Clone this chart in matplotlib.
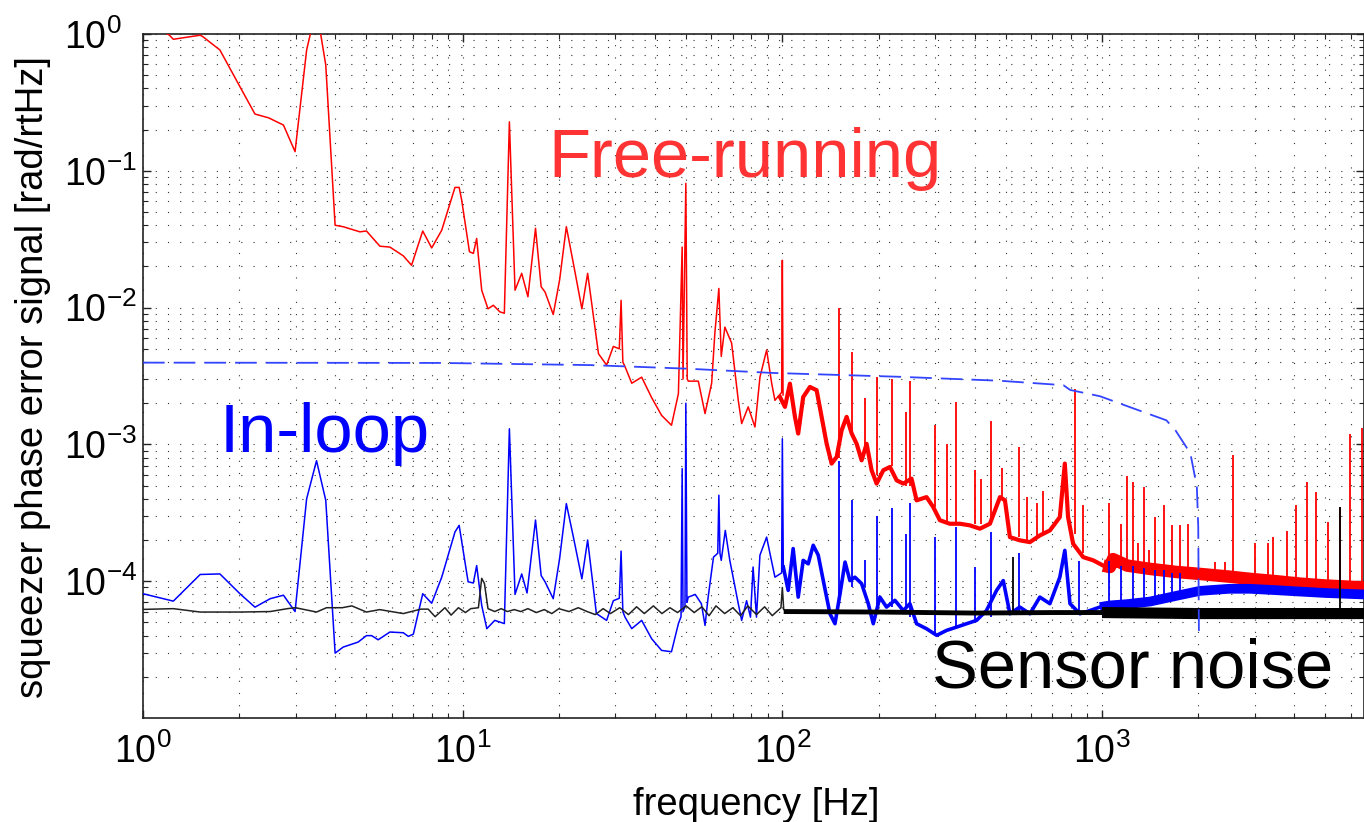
import numpy as np
import matplotlib
matplotlib.use("Agg")
import matplotlib.pyplot as plt

plt.rcParams['font.family'] = ['Liberation Sans', 'DejaVu Sans']
plt.rcParams['mathtext.fontset'] = 'custom'
plt.rcParams['mathtext.rm'] = 'Liberation Sans'
plt.rcParams['mathtext.it'] = 'Liberation Sans:italic'
plt.rcParams['mathtext.bf'] = 'Liberation Sans:bold'

# ---------------- data ----------------
# Free-running, 1-100 Hz (thin trace)
red_f = [1.0, 1.21, 1.244, 1.51, 1.54, 1.74, 2.01, 2.24, 2.47, 2.75, 2.99, 3.25, 3.4, 3.55,
         3.73, 3.99, 4.23, 4.77, 5.0, 5.51, 5.92, 6.52, 6.92, 7.5, 8.0, 8.6, 9.46, 9.75, 9.93,
         10.5, 10.8, 11.06, 11.47, 12.0, 12.47, 13.08, 13.5, 14.0, 14.58, 15.3, 16.0, 16.9,
         17.6, 18.1, 19.2, 20.1, 21.1, 22.2, 23.6, 24.6, 26.6, 28.2, 29.6, 30.9, 31.3, 31.7,
         32.2, 33.8, 36.3, 39.0, 41.9, 45.0, 47.3, 48.6, 48.9, 49.9, 50.4, 50.8, 54.6, 57.3,
         60.1, 61.5, 63.3, 64.4, 66.1, 69.4, 72.8, 74.6, 78.2, 82.1, 85.1, 89.3, 92.6, 94.8,
         99.5, 100.0, 100.5]
red_v = [1.3, 0.98, 0.915, 0.98, 0.955, 0.764, 0.412, 0.26, 0.244, 0.216, 0.138, 0.764, 1.2, 1.2,
         0.593, 0.040, 0.039, 0.0358, 0.0363, 0.0281, 0.0277, 0.0239, 0.0204, 0.0363, 0.0273,
         0.0368, 0.0756, 0.0756, 0.061, 0.0256, 0.0249, 0.032, 0.0134, 0.0098, 0.0104, 0.0093,
         0.0091, 0.228, 0.0134, 0.0178, 0.012, 0.038, 0.0142, 0.013, 0.0089, 0.0159, 0.039,
         0.021, 0.0098, 0.0178, 0.0046, 0.0038, 0.0052, 0.0050, 0.0113, 0.0040, 0.0037, 0.0028,
         0.0031, 0.0022, 0.00163, 0.00138, 0.00235, 0.0277, 0.0030, 0.081, 0.0030, 0.0029,
         0.0029, 0.00168, 0.0028, 0.0065, 0.0138, 0.0044, 0.0072, 0.0055, 0.0021, 0.00142,
         0.00188, 0.00134, 0.0031, 0.0049, 0.0028, 0.0021, 0.0024, 0.0222, 0.0023]
# Free-running, 100-1000 Hz (fuzzy band)
red_mid_f = [98.3, 101.9, 105.6, 109.5, 112.1, 116.2, 122, 128, 132.7, 137.6, 142.6, 147.9,
             153.3, 158.9, 164.8, 170.8, 177, 183.5, 190.2, 197.2, 206.9, 217.1, 227.8, 239,
             253.6, 263, 282.6, 296.5, 311, 334, 359.4, 386, 415, 446, 479.6, 497, 515, 553,
             595, 639, 687, 738, 765, 783, 812, 873, 939, 1009, 1059]
red_mid_v = [2.22e-3, 1.88e-3, 2.78e-3, 1.59e-3, 1.2e-3, 2.22e-3, 2.63e-3, 2.49e-3, 1.59e-3,
             1.01e-3, 7.24e-4, 8.1e-4, 1.27e-3, 1.59e-3, 1.2e-3, 1.01e-3, 7.65e-4, 1.01e-3,
             6.47e-4, 5.17e-4, 6.47e-4, 6.84e-4, 5.46e-4, 5.17e-4, 5.62e-4, 3.9e-4, 4.12e-4,
             3.48e-4, 2.79e-4, 2.63e-4, 2.63e-4, 2.56e-4, 2.42e-4, 2.63e-4, 4.12e-4, 3.9e-4,
             2.1e-4, 1.99e-4, 1.93e-4, 2.16e-4, 2.35e-4, 2.94e-4, 7.24e-4, 2.94e-4, 1.88e-4,
             1.5e-4, 1.42e-4, 1.3e-4, 1.27e-4]
# Free-running, 1-6.6 kHz (fuzzy band centre)
red_hi_f = [1009, 1059, 1082, 1200, 1413, 1700, 2025, 2500, 2903, 3500, 4160, 5000, 6600]
red_hi_v = [1.3e-4, 1.27e-4, 1.45e-4, 1.3e-4, 1.23e-4, 1.17e-4, 1.13e-4, 1.08e-4, 1.04e-4,
            1.0e-4, 9.6e-5, 9.3e-5, 9.0e-5]
red_spike_f = [150.6, 164.6, 182, 197.5, 220, 244, 250, 300, 328, 350, 400, 417, 450, 485,
               548, 581, 625, 655, 824, 870, 1050, 1150, 1200, 1250, 1300, 1355, 1400, 1460,
               1560, 1655, 1760, 1860, 2250, 2420, 2560, 3000, 3300, 3430, 3780, 4050, 4370,
               4670, 5110, 5550, 5980, 6490]
red_spike_top = [0.010, 0.0047, 0.0022, 0.0031, 0.0030, 0.00173, 0.0029, 0.00138, 0.00101,
                 0.00204, 0.00065, 0.00056, 0.00148, 0.00067, 0.00096, 0.00041, 0.00037,
                 0.00046, 0.00256, 0.00036, 0.00037, 0.000263, 0.00059, 0.00053, 0.00019,
                 0.00049, 0.00017, 0.000295, 0.00036, 0.000256, 0.000256, 0.000263, 0.000137,
                 0.000137, 0.00083, 0.00019, 0.00019, 0.00021, 0.000232, 0.00036, 0.00053,
                 0.00045, 0.00027, 0.00035, 0.00119, 0.00131]
red_spike_base = [0.0008, 0.0012, 0.0009, 0.0006, 0.0007, 0.0005, 0.0005, 0.00035, 0.00027,
                  0.00027, 0.00026, 0.00026, 0.00027, 0.0004, 0.00021, 0.0002, 0.00021,
                  0.00023, 0.00022, 0.00016, 0.00014, 0.00014, 0.00013, 0.00013, 0.00013,
                  0.000125, 0.000125, 0.00012, 0.00012, 0.00012, 0.000118, 0.000117, 0.000112,
                  0.00011, 0.00011, 0.000106, 0.000104, 0.000103, 0.0001, 0.0001, 0.000097,
                  0.000096, 0.000094, 0.000093, 0.000092, 0.00009]

# In-loop, 1-100 Hz
blue_f = [1.0, 1.244, 1.51, 1.74, 2.01, 2.24, 2.5, 2.75, 2.99, 3.25, 3.49, 3.73, 3.99, 4.23,
          4.71, 5.0, 5.19, 5.44, 5.92, 6.52, 6.76, 7.01, 7.5, 8.0, 8.6, 9.46, 9.75, 10.4, 10.8,
          11.06, 11.47, 11.9, 12.6, 13.5, 14.0, 14.58, 15.3, 15.9, 16.9, 17.6, 18.1, 19.2,
          20.1, 21.1, 22.2, 23.6, 24.6, 26.2, 28.2, 29.6, 30.9, 31.3, 31.7, 32.2, 33.8, 36.3,
          39.0, 41.9, 45.0, 47.3, 48.2, 48.6, 48.9, 49.6, 49.9, 50.3, 50.8, 53.4, 55.8, 57.3,
          58.6, 60.9, 62.8, 63.3, 63.8, 64.4, 66.3, 68.5, 72.8, 74.6, 77.3, 79.5, 81.0, 83.0,
          85.1, 89.3, 91.5, 94.8, 99.5, 100.0, 100.7]
blue_v = [8.1e-5, 7.15e-5, 1.12e-4, 1.13e-4, 8.1e-5, 6.46e-5, 7.45e-5, 7.9e-5, 6.0e-5, 4.0e-4,
          7.6e-4, 3.9e-4, 2.98e-5, 3.3e-5, 3.59e-5, 4.0e-5, 4.0e-5, 3.73e-5, 4.25e-5, 4.2e-5,
          3.95e-5, 4.1e-5, 8.1e-5, 6.9e-5, 1.07e-4, 2.29e-4, 2.56e-4, 9.9e-5, 9.7e-5, 1.3e-4,
          6.65e-5, 4.5e-5, 5.17e-5, 4.9e-5, 1.3e-3, 8.0e-5, 1.13e-4, 8.2e-5, 2.8e-4, 1.1e-4,
          9.9e-5, 7.45e-5, 1.46e-4, 3.69e-4, 2.1e-4, 1.04e-4, 2.0e-4, 5.8e-5, 5.17e-5, 7.2e-5,
          7.5e-5, 1.66e-4, 6.0e-5, 5.46e-5, 4.5e-5, 5.17e-5, 3.8e-5, 3.12e-5, 3.05e-5, 4.9e-5,
          5.5e-5, 6.65e-4, 6.0e-5, 6.5e-5, 2.0e-3, 7.0e-5, 7.65e-5, 8.0e-5, 6.85e-5, 4.75e-5,
          7.65e-5, 1.5e-4, 1.6e-4, 4.25e-4, 1.6e-4, 1.42e-4, 2.35e-4, 1.42e-4, 6.85e-5,
          5.17e-5, 7.2e-5, 5.46e-5, 1.27e-4, 5.46e-5, 1.55e-4, 2.1e-4, 1.59e-4, 1.07e-4,
          1.15e-4, 1.1e-3, 1.27e-4]
blue_mid_f = [100.7, 104.3, 108.1, 112.1, 116.2, 120.5, 124.9, 129.5, 134.3, 140.9, 146.1,
              151.5, 157.1, 162.7, 168.7, 177, 185.7, 192.5, 201.9, 211.8, 225, 239, 250.6,
              263, 282.6, 304, 326.5, 351, 377, 405, 435, 468, 491, 515, 553, 595, 639, 687,
              738, 765, 794, 853, 916, 985, 1059]
blue_mid_v = [1.27e-4, 8.57e-5, 1.73e-4, 7.65e-5, 1.42e-4, 1.34e-4, 1.83e-4, 1.55e-4, 1.01e-4,
              5.78e-5, 4.89e-5, 8.1e-5, 1.38e-4, 1.01e-4, 1.07e-4, 9.6e-5, 6.85e-5, 4.89e-5,
              7.65e-5, 6.47e-5, 7.24e-5, 6.1e-5, 6.85e-5, 4.89e-5, 4.49e-5, 4.02e-5, 4.37e-5,
              4.62e-5, 4.89e-5, 5.17e-5, 6.1e-5, 8.57e-5, 1.01e-4, 5.78e-5, 6.47e-5, 5.78e-5,
              7.65e-5, 6.85e-5, 1.07e-4, 1.68e-4, 6.85e-5, 5.78e-5, 6.1e-5, 6.47e-5, 6.65e-5]
blue_hi_f = [985, 1059, 1200, 1413, 1700, 2025, 2500, 2900, 3500, 4160, 5000, 6600]
blue_hi_v = [6.47e-5, 6.65e-5, 6.8e-5, 7.1e-5, 7.8e-5, 8.5e-5, 8.8e-5, 8.8e-5, 8.6e-5, 8.4e-5,
             8.2e-5, 8.0e-5]
blue_spike_f = [150.6, 164.6, 182, 197.5, 221, 244, 250, 300, 350, 400, 450, 550, 850,
                1050, 1150, 1250, 1350, 1460, 1560, 1660, 1760]
blue_spike_top = [7.6e-4, 3.9e-4, 1.43e-4, 3.0e-4, 3.4e-4, 2.2e-4, 3.7e-4, 2.1e-4, 2.5e-4,
                  1.27e-4, 2.3e-4, 1.6e-4, 1.4e-4, 1.4e-4, 1.3e-4, 1.3e-4, 1.25e-4, 1.2e-4,
                  1.2e-4, 1.15e-4, 1.15e-4]
blue_spike_base = [7e-5, 9e-5, 9e-5, 6e-5, 6.5e-5, 6.5e-5, 5.5e-5, 4.2e-5, 4.5e-5, 5e-5,
                   5.5e-5, 6e-5, 6e-5, 6.5e-5, 6.6e-5, 6.8e-5, 7e-5, 7e-5, 7.3e-5, 7.5e-5,
                   7.7e-5]

# Sensor noise
black_f = [1.0, 1.244, 1.51, 2.01, 2.5, 2.83, 3.0, 3.49, 3.75, 4.2, 4.5, 5.0, 5.5, 6.52, 7.4,
           7.8, 8.2, 8.8, 9.2, 9.7, 10.2, 10.6, 11.2, 11.47, 11.7, 12.0, 12.6, 13.2, 13.8,
           14.5, 15.2, 16.0, 17.0, 18.0, 19.0, 20.0, 21.5, 23.0, 24.5, 26.0, 27.5, 29.0, 31.0,
           33.0, 35.0, 37.0, 39.5, 42.0, 44.5, 47.0, 50.0, 53.0, 56.0, 59.0, 62.0, 66.0, 70.0,
           74.0, 78.0, 83.0, 88.0, 93.0, 99.0, 100.0, 101.0]
black_v = [6.22e-5, 6.3e-5, 5.95e-5, 5.95e-5, 6.0e-5, 6.3e-5, 6.4e-5, 5.95e-5, 6.4e-5, 6.4e-5,
           6.6e-5, 5.95e-5, 6.2e-5, 5.8e-5, 6.25e-5, 6.25e-5, 5.5e-5, 6.4e-5, 5.65e-5, 6.4e-5,
           5.9e-5, 6.3e-5, 6.4e-5, 1.05e-4, 9.6e-5, 6.3e-5, 6.0e-5, 6.3e-5, 6.0e-5, 6.2e-5,
           6.0e-5, 6.3e-5, 5.9e-5, 6.2e-5, 5.8e-5, 6.3e-5, 6.0e-5, 6.4e-5, 6.0e-5, 5.7e-5,
           6.3e-5, 5.8e-5, 6.4e-5, 5.7e-5, 6.5e-5, 5.8e-5, 6.6e-5, 5.8e-5, 6.4e-5, 5.9e-5,
           6.6e-5, 5.9e-5, 6.5e-5, 5.6e-5, 6.6e-5, 5.8e-5, 6.4e-5, 5.6e-5, 6.6e-5, 5.7e-5,
           6.5e-5, 5.6e-5, 6.4e-5, 9.0e-5, 6.2e-5]
black_mid_f = [101, 200, 400, 700, 1059]
black_mid_v = [6.0e-5, 5.95e-5, 5.85e-5, 5.9e-5, 5.9e-5]
black_hi_f = [1000, 2000, 4000, 6600]
black_hi_v = [5.9e-5, 5.8e-5, 5.8e-5, 5.8e-5]
black_spike_f = [525, 5550]
black_spike_top = [1.5e-4, 3.5e-4]
black_spike_base = [6e-5, 6e-5]

# dashed blue curve
dash_f = [1, 8.5, 25, 50, 93, 233, 478, 757, 795, 985, 1248, 1590, 1700, 1890, 1980, 2000, 2010]
dash_v = [0.00396, 0.00394, 0.0038, 0.00358, 0.00333, 0.00312, 0.00292, 0.00271, 0.0025,
          0.00225, 0.00184, 0.0015, 0.00126, 0.00086, 0.00049, 0.00025, 3.9e-5]

xticks = [1, 10, 100, 1000]
yticks = [1e-4, 1e-3, 1e-2, 1e-1, 1e0]

# ---------------- figure ----------------
W, H = 1364, 822
fig = plt.figure(figsize=(W / 100, H / 100), dpi=100)
ax = fig.add_axes([143 / W, 1 - 718 / H, 1 - 143 / W, (718 - 34) / H])
ax.set_xscale('log')
ax.set_yscale('log')
ax.set_xlim(1, 6600)
ax.set_ylim(1e-5, 1)

RED = '#ff0000'
BLUE = '#0000ff'
ax.plot(red_f, red_v, color=RED, lw=1.1, zorder=3)
ax.plot(red_mid_f, red_mid_v, color=RED, lw=3.0, zorder=3, solid_joinstyle='round')
ax.plot(red_hi_f, red_hi_v, color=RED, lw=9, zorder=3, solid_capstyle='butt')
ax.vlines(red_spike_f, red_spike_base, red_spike_top, color=RED, lw=1.3, zorder=3)

ax.plot(blue_f, blue_v, color=BLUE, lw=1.1, zorder=4)
ax.plot(blue_mid_f, blue_mid_v, color=BLUE, lw=2.6, zorder=4, solid_joinstyle='round')
ax.plot(blue_hi_f, blue_hi_v, color=BLUE, lw=7, zorder=4, solid_capstyle='butt')
ax.vlines(blue_spike_f, blue_spike_base, blue_spike_top, color=BLUE, lw=1.3, zorder=4)

ax.plot(black_f, black_v, color='#222222', lw=1.1, zorder=5)
ax.plot(black_mid_f, black_mid_v, color='black', lw=3.5, zorder=5, solid_capstyle='butt')
ax.plot(black_hi_f, black_hi_v, color='black', lw=8, zorder=5, solid_capstyle='butt')
ax.vlines(black_spike_f, black_spike_base, black_spike_top, color='black', lw=1.3, zorder=5)

ax.plot(dash_f, dash_v, color='#3344ff', lw=1.3, ls=(0, (12, 5)), zorder=6)

# grid & ticks
ax.grid(True, which='both', color='0.2', lw=0.8, ls=(0, (1, 10)))
ax.set_axisbelow(True)
ax.set_xticks(xticks)
ax.set_yticks(yticks)
ax.tick_params(which='both', direction='in', top=True, right=True, colors='#222222')
ax.tick_params(which='major', length=6, width=1.0, labelsize=27, labelcolor='black')
ax.tick_params(which='minor', length=3.5, width=0.8)
ax.tick_params(axis='x', which='major', pad=11)
ax.tick_params(axis='y', which='major', pad=57)
for lab in ax.get_yticklabels():
    lab.set_horizontalalignment('left')
for s in ax.spines.values():
    s.set_linewidth(1.2)
    s.set_color('#222222')

fig.text(33 / W, 1 - 377 / H, 'squeezer phase error signal [rad/rtHz]', rotation=90,
         ha='center', va='center', fontsize=27.5)
fig.text(756 / W, 1 - 787 / H, 'frequency [Hz]', ha='center', va='top', fontsize=27.5)

ax.text(18.5, 0.0899, 'Free-running', color='#ff3333', fontsize=49.5, va='baseline', ha='left')
ax.text(1.74, 8.75e-4, 'In-loop', color='#0000ff', fontsize=49.5, va='baseline', ha='left')
ax.text(294, 1.67e-5, 'Sensor noise', color='black', fontsize=49.5, va='baseline', ha='left')

fig.savefig('out.png', dpi=100)
